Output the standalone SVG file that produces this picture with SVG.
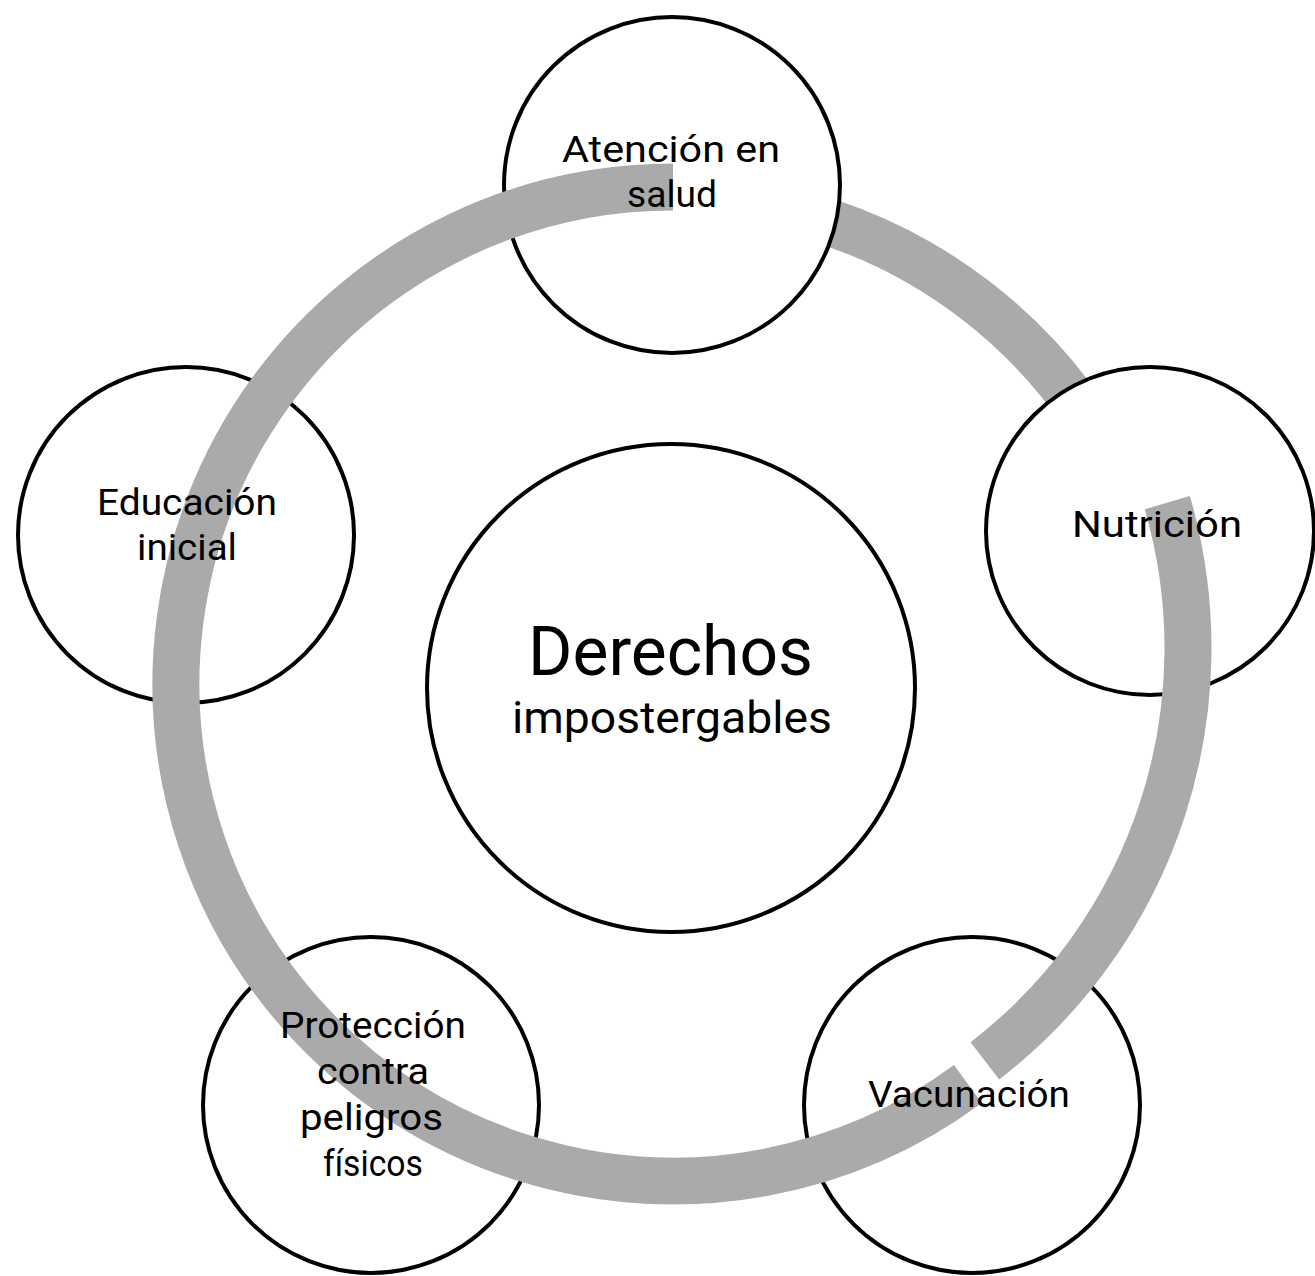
<svg xmlns="http://www.w3.org/2000/svg" width="1315" height="1276" viewBox="0 0 1315 1276">
  <style>
    .node { fill: #ffffff; stroke: #000000; stroke-width: 4; }
    .ring { fill: none; stroke: #aaaaaa; stroke-width: 47; stroke-linecap: butt; }
    .lbl { font-family: Roboto, "Liberation Sans", sans-serif; font-size: 37px; fill: #000000; text-anchor: middle; }
    .big { font-family: Roboto, "Liberation Sans", sans-serif; font-size: 68px; fill: #000000; text-anchor: middle; }
    .mid { font-family: Roboto, "Liberation Sans", sans-serif; font-size: 44px; fill: #000000; text-anchor: middle; }
  </style>
  <rect x="0" y="0" width="1315" height="1276" fill="#ffffff"/>
  <g id="connectors-under">
    <path class="ring" d="M 758.5 204.6 A 498 498 0 0 1 1123.3 484.5"/>
  </g>
  <g id="node-centro">
    <circle class="node" cx="671" cy="688" r="244"/>
  </g>
  <g id="node-atencion">
    <circle class="node" cx="672" cy="185" r="168"/>
  </g>
  <g id="node-nutricion">
    <circle class="node" cx="1150" cy="531" r="164"/>
  </g>
  <g id="node-vacunacion">
    <circle class="node" cx="972" cy="1105" r="168"/>
  </g>
  <g id="node-proteccion">
    <circle class="node" cx="371" cy="1105" r="168"/>
  </g>
  <g id="node-educacion">
    <circle class="node" cx="186" cy="535" r="168"/>
  </g>
  <g id="connectors">
    <path class="ring" d="M 673 187 A 497 497 0 1 0 967.9 1084.0"/>
    <path class="ring" d="M 984.9 1060.8 A 521 521 0 0 0 1167.3 502.6"/>
  </g>
  <g id="labels">
    <text class="big" x="670.5" y="675" textLength="285" lengthAdjust="spacingAndGlyphs">Derechos</text>
    <text class="mid" x="672" y="733" textLength="320" lengthAdjust="spacingAndGlyphs">impostergables</text>
    <text class="lbl" x="671" y="162" textLength="218" lengthAdjust="spacingAndGlyphs">Atención en</text>
    <text class="lbl" x="672" y="207" textLength="90" lengthAdjust="spacingAndGlyphs">salud</text>
    <text class="lbl" x="1157" y="537" textLength="170" lengthAdjust="spacingAndGlyphs">Nutrición</text>
    <text class="lbl" x="969" y="1107" textLength="202" lengthAdjust="spacingAndGlyphs">Vacunación</text>
    <text class="lbl" x="373" y="1038" textLength="186" lengthAdjust="spacingAndGlyphs">Protección</text>
    <text class="lbl" x="373" y="1084" textLength="112" lengthAdjust="spacingAndGlyphs">contra</text>
    <text class="lbl" x="371.5" y="1130" textLength="143" lengthAdjust="spacingAndGlyphs">peligros</text>
    <text class="lbl" x="373" y="1176" textLength="100" lengthAdjust="spacingAndGlyphs">físicos</text>
    <text class="lbl" x="187" y="515" textLength="180" lengthAdjust="spacingAndGlyphs">Educación</text>
    <text class="lbl" x="187" y="560" textLength="100" lengthAdjust="spacingAndGlyphs">inicial</text>
  </g>
</svg>
